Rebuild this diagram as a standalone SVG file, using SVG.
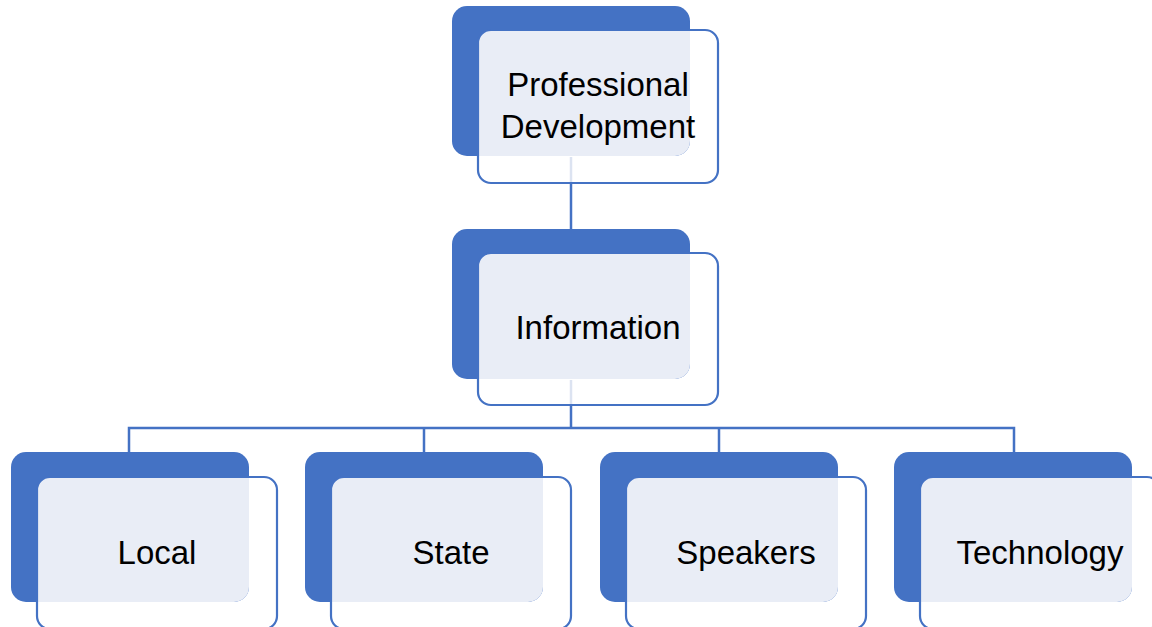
<svg xmlns="http://www.w3.org/2000/svg" width="1152" height="627" viewBox="0 0 1152 627">
<style>
.back{fill:#4472C4}
.light{fill:#E9EDF6}
.frame{fill:none;stroke:#4472C4;stroke-width:2.2}
.conn{fill:none;stroke:#4472C4;stroke-width:2.5}
.faint{fill:none;stroke:#DCE3F1;stroke-width:2.5}
.lbl{font-family:"Liberation Sans",Arial,sans-serif;font-size:33px;fill:#000;text-anchor:middle}
</style>
<defs>
<clipPath id="c1"><rect x="452" y="6" width="238" height="150" rx="15"/></clipPath>
<clipPath id="c2"><rect x="452" y="229" width="238" height="150" rx="15"/></clipPath>
<clipPath id="c3"><rect x="11" y="452" width="238" height="150" rx="15"/></clipPath>
<clipPath id="c4"><rect x="305" y="452" width="238" height="150" rx="15"/></clipPath>
<clipPath id="c5"><rect x="600" y="452" width="238" height="150" rx="15"/></clipPath>
<clipPath id="c6"><rect x="894" y="452" width="238" height="150" rx="15"/></clipPath>
</defs>
<g id="connectors">
<line class="faint" x1="571" y1="157" x2="571" y2="183"/>
<line class="conn" x1="571" y1="183" x2="571" y2="229"/>
<line class="faint" x1="571" y1="380" x2="571" y2="405"/>
<polyline class="conn" points="571,405 571,428"/>
<polyline class="conn" points="129,452 129,428 1014,428 1014,452"/>
<line class="conn" x1="424" y1="428" x2="424" y2="452"/>
<line class="conn" x1="719" y1="428" x2="719" y2="452"/>
</g>
<g id="node-professional-development">
<rect class="back" x="452" y="6" width="238" height="150" rx="15"/>
<rect class="light" x="478" y="30" width="240" height="153" rx="13" clip-path="url(#c1)"/>
<rect class="frame" x="478" y="30" width="240" height="153" rx="13"/>
<text class="lbl" x="598" y="96">Professional</text>
<text class="lbl" x="598" y="138">Development</text>
</g>
<g id="node-information">
<rect class="back" x="452" y="229" width="238" height="150" rx="15"/>
<rect class="light" x="478" y="253" width="240" height="152" rx="13" clip-path="url(#c2)"/>
<rect class="frame" x="478" y="253" width="240" height="152" rx="13"/>
<text class="lbl" x="598" y="339">Information</text>
</g>
<g id="node-local">
<rect class="back" x="11" y="452" width="238" height="150" rx="15"/>
<rect class="light" x="37" y="477" width="240" height="152" rx="13" clip-path="url(#c3)"/>
<rect class="frame" x="37" y="477" width="240" height="152" rx="13"/>
<text class="lbl" x="157" y="564">Local</text>
</g>
<g id="node-state">
<rect class="back" x="305" y="452" width="238" height="150" rx="15"/>
<rect class="light" x="331" y="477" width="240" height="152" rx="13" clip-path="url(#c4)"/>
<rect class="frame" x="331" y="477" width="240" height="152" rx="13"/>
<text class="lbl" x="451" y="564">State</text>
</g>
<g id="node-speakers">
<rect class="back" x="600" y="452" width="238" height="150" rx="15"/>
<rect class="light" x="626" y="477" width="240" height="152" rx="13" clip-path="url(#c5)"/>
<rect class="frame" x="626" y="477" width="240" height="152" rx="13"/>
<text class="lbl" x="746" y="564">Speakers</text>
</g>
<g id="node-technology">
<rect class="back" x="894" y="452" width="238" height="150" rx="15"/>
<rect class="light" x="920" y="477" width="240" height="152" rx="13" clip-path="url(#c6)"/>
<rect class="frame" x="920" y="477" width="240" height="152" rx="13"/>
<text class="lbl" x="1040" y="564">Technology</text>
</g>
</svg>
